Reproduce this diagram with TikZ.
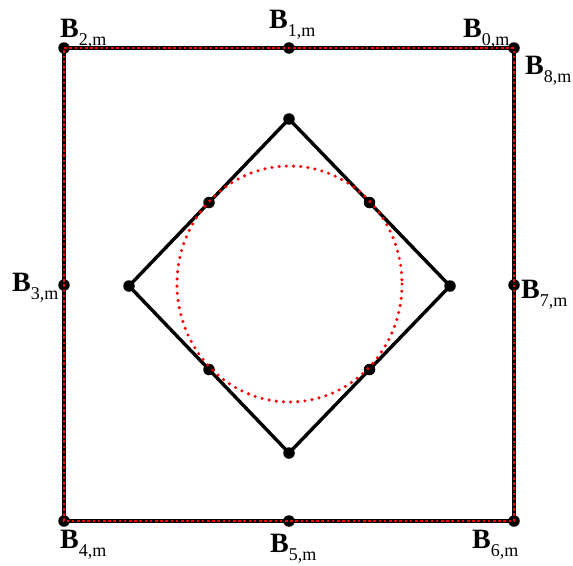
\documentclass[tikz,border=0pt]{standalone}
\usepackage{fontspec}
\setmainfont{Liberation Serif}
\usetikzlibrary{calc}
\tikzset{
  blk/.style={draw=black,line width=4pt},
  blkd/.style={draw=black,line width=3.4pt},
  reddot/.style={draw=red,line width=2.4pt,dash pattern=on 2.6pt off 2.6pt},
  redcirc/.style={draw=red,line width=3.4pt,line cap=round,dash pattern=on 0pt off 7.2pt},
  pt/.style={circle,fill=black,inner sep=0pt,minimum size=11.5pt},
  lab/.style={anchor=base west,inner sep=0pt,font=\fontsize{28}{30}\selectfont\bfseries}
}
\newcommand{\Bl}[1]{B\raisebox{-8pt}{\fontsize{18}{20}\selectfont\mdseries #1,m}}
\begin{document}
\begin{tikzpicture}[x=1pt,y=-1pt]
\useasboundingbox (0,0) rectangle (573,565);
% square
\coordinate (s0) at (514,48);
\coordinate (s1) at (289,48);
\coordinate (s2) at (64,48);
\coordinate (s3) at (64,285);
\coordinate (s4) at (64,521);
\coordinate (s5) at (289,521);
\coordinate (s6) at (514,521);
\coordinate (s7) at (514,285);
\draw[blk] (s0) -- (s2) -- (s4) -- (s6) -- cycle;
% diamond
\coordinate (dt) at (289,119);
\coordinate (dl) at (129,286);
\coordinate (db) at (289,453);
\coordinate (dr) at (450,286);
\draw[blkd] (dt) -- (dl) -- (db) -- (dr) -- cycle;
% dots
\foreach \p in {s0,s1,s2,s3,s4,s5,s6,s7,dt,dl,db,dr}
  \node[pt] at (\p) {};
\node[pt] (m1) at ($(dt)!0.5!(dl)$) {};
\node[pt] (m2) at ($(dt)!0.5!(dr)$) {};
\node[pt] (m3) at ($(db)!0.5!(dl)$) {};
\node[pt] (m4) at ($(db)!0.5!(dr)$) {};
% red overlays
\draw[reddot] (s0) -- (s2) -- (s4) -- (s6) -- cycle;
\draw[redcirc] (289.5,284) ellipse [x radius=112.5, y radius=118];
% labels
\node[lab] (L2) at (60,37) {\Bl{2}};
\node[lab] (L1) at (269,28) {\Bl{1}};
\node[lab] (L0) at (463,37) {\Bl{0}};
\node[lab] (L8) at (525,74) {\Bl{8}};
\node[lab] (L3) at (12,291) {\Bl{3}};
\node[lab] (L7) at (521,298) {\Bl{7}};
\node[lab] (L4) at (60,548) {\Bl{4}};
\node[lab] (L5) at (270,552) {\Bl{5}};
\node[lab] (L6) at (472,548) {\Bl{6}};
\end{tikzpicture}
\end{document}
